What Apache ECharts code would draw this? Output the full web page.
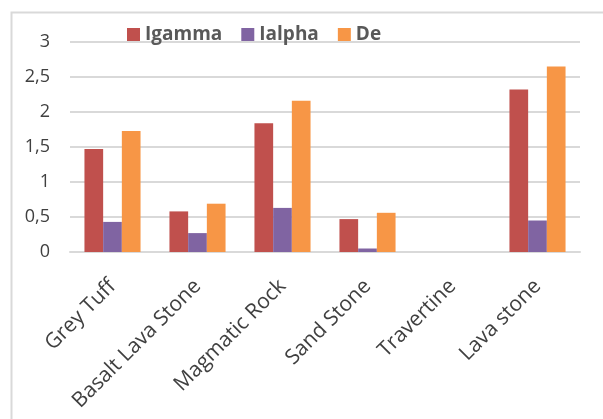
<!DOCTYPE html>
<html>
<head>
<meta charset="utf-8">
<script src="https://cdn.jsdelivr.net/npm/echarts@6/dist/echarts.min.js"></script>
<style>
  html, body { margin: 0; padding: 0; background: #fff; }
  #chart { width: 603px; height: 419px; }
</style>
</head>
<body>
<div id="chart"></div>
<script>
// Stone types on the category axis
const categories = ['Grey Tuff', 'Basalt Lava Stone', 'Magmatic Rock', 'Sand Stone', 'Travertine', 'Lava stone'];
// Series values per stone type
const igamma = [1.47, 0.58, 1.84, 0.47, 0, 2.32];
const ialpha = [0.43, 0.27, 0.63, 0.05, 0, 0.45];
const de = [1.73, 0.69, 2.16, 0.56, 0, 2.65];
// Value axis ticks
const yTicks = [0, 0.5, 1, 1.5, 2, 2.5, 3];

const seriesDefs = [
  { name: 'Igamma', data: igamma, color: '#C0504D' },
  { name: 'Ialpha', data: ialpha, color: '#8064A2' },
  { name: 'De', data: de, color: '#F79646' }
];

const chart = echarts.init(document.getElementById('chart'), null, { renderer: 'canvas' });

chart.setOption({
  animation: false,
  backgroundColor: '#ffffff',
  graphic: [{
    type: 'rect',
    left: 9, top: 10,
    shape: { width: 700, height: 500 },
    style: { fill: 'none', stroke: '#d9d9d9', lineWidth: 2 },
    silent: true
  }],
  legend: {
    left: 122,
    top: 20,
    icon: 'rect',
    itemWidth: 13,
    itemHeight: 13,
    itemGap: 19,
    textStyle: { fontFamily: 'Open Sans', fontSize: 19, fontWeight: 'bold', color: '#595959' },
    data: seriesDefs.map(s => s.name)
  },
  grid: { left: 70, right: 23, top: 42, bottom: 167, containLabel: false },
  xAxis: {
    type: 'category',
    data: categories,
    axisLine: { show: true, lineStyle: { color: '#d9d9d9', width: 2 } },
    axisTick: { show: false },
    axisLabel: {
      interval: 0,
      rotate: 45,
      margin: 31,
      fontFamily: 'Open Sans',
      fontSize: 21,
      color: '#404040'
    }
  },
  yAxis: {
    type: 'value',
    min: yTicks[0],
    max: yTicks[yTicks.length - 1],
    interval: 0.5,
    axisLine: { show: false },
    axisTick: { show: false },
    splitLine: { lineStyle: { color: '#d9d9d9', width: 2 } },
    axisLabel: {
      margin: 20,
      fontFamily: 'Open Sans',
      fontSize: 18,
      color: '#404040',
      formatter: v => String(v).replace('.', ',')
    }
  },
  series: seriesDefs.map(s => ({
    name: s.name,
    type: 'bar',
    data: s.data,
    barGap: '0%',
    barCategoryGap: '34%',
    itemStyle: { color: s.color }
  }))
});
</script>
</body>
</html>
